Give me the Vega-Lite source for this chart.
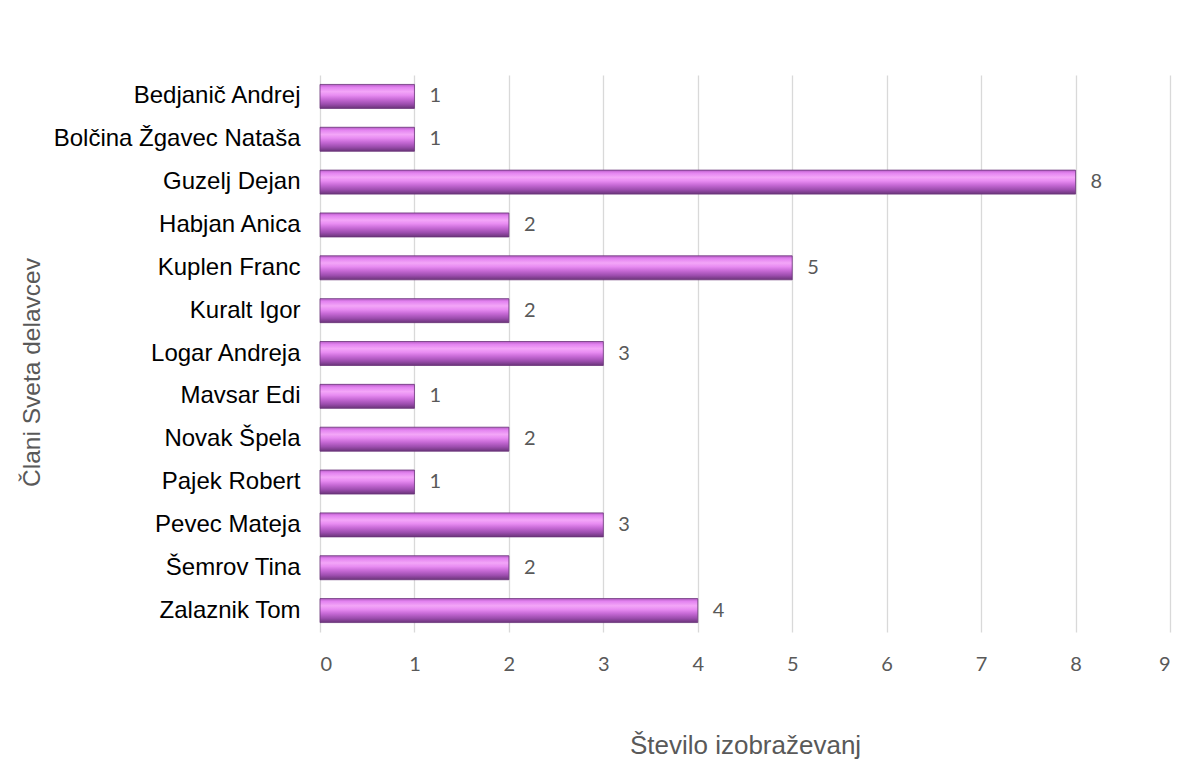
{
  "$schema": "https://vega.github.io/schema/vega-lite/v6.json",
  "autosize": {"type": "none"},
  "padding": {"left": 320, "top": 75, "right": 17, "bottom": 146},
  "width": 850,
  "height": 557,
  "background": "white",
  "config": {"view": {"stroke": null}},
  "data": {"values": [
    {"name": "Bedjanič Andrej\u00a0\u00a0", "n": 1},
    {"name": "Bolčina Žgavec Nataša", "n": 1},
    {"name": "Guzelj Dejan", "n": 8},
    {"name": "Habjan Anica", "n": 2},
    {"name": "Kuplen Franc", "n": 5},
    {"name": "Kuralt Igor", "n": 2},
    {"name": "Logar Andreja\u00a0\u00a0", "n": 3},
    {"name": "Mavsar Edi", "n": 1},
    {"name": "Novak Špela", "n": 2},
    {"name": "Pajek Robert", "n": 1},
    {"name": "Pevec Mateja", "n": 3},
    {"name": "Šemrov Tina", "n": 2},
    {"name": "Zalaznik Tom\u00a0\u00a0", "n": 4}
  ]},
  "encoding": {
    "y": {
      "field": "name", "type": "nominal", "sort": null,
      "scale": {"paddingInner": 0.44, "paddingOuter": 0.22},
      "axis": {
        "title": "Člani Sveta delavcev",
        "titleFont": "Liberation Sans", "titleFontSize": 24.5, "titleFontWeight": "normal",
        "titleColor": "#595959", "titleAngle": -90, "titleX": -288, "titleY": 297,
        "titleAlign": "center", "titleBaseline": "middle",
        "labelFont": "Liberation Sans", "labelFontSize": 24, "labelColor": "#000000",
        "labelPadding": 20, "labelLimit": 500, "ticks": false, "domain": false, "grid": false
      }
    },
    "x": {
      "field": "n", "type": "quantitative",
      "scale": {"domain": [0, 9], "nice": false},
      "axis": {
        "title": "Število izobraževanj",
        "titleFont": "Liberation Sans", "titleFontSize": 26, "titleFontWeight": "normal",
        "titleColor": "#595959", "titleY": 113, "titleBaseline": "middle",
        "values": [0,1,2,3,4,5,6,7,8,9], "format": "d",
        "labelFont": "Lato", "labelFontSize": 20, "labelColor": "#595959",
        "labelBaseline": "middle", "labelPadding": 32, "ticks": false, "domain": false,
        "grid": true, "gridColor": "#d9d9d9", "gridWidth": 1.3
      }
    }
  },
  "layer": [
    {
      "mark": {
        "type": "bar",
        "stroke": "#6a3479", "strokeWidth": 0.8,
        "fill": {
          "gradient": "linear", "x1": 0, "y1": 0, "x2": 0, "y2": 1,
          "stops": [
            {"offset": 0, "color": "#b65cc6"},
            {"offset": 0.12, "color": "#e383f0"},
            {"offset": 0.3, "color": "#f3a6f8"},
            {"offset": 0.45, "color": "#e88cf2"},
            {"offset": 0.62, "color": "#c76ad6"},
            {"offset": 0.82, "color": "#9c4dae"},
            {"offset": 1, "color": "#6a3479"}
          ]
        }
      }
    },
    {
      "mark": {"type": "text", "align": "left", "baseline": "middle", "dx": 15, "font": "Lato", "fontSize": 20, "color": "#595959"},
      "encoding": {"text": {"field": "n", "type": "quantitative"}}
    }
  ]
}
